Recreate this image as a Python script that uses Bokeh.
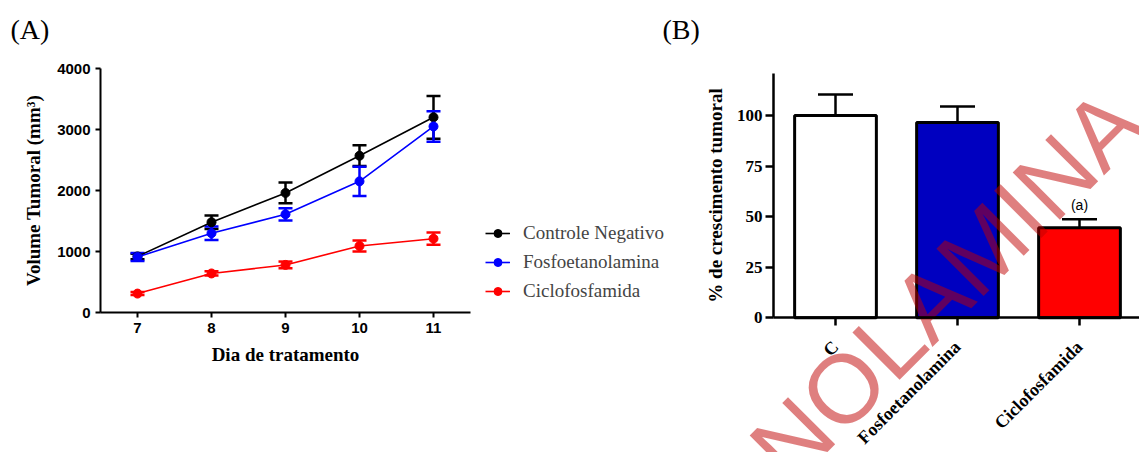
import math
from bokeh.plotting import figure
from bokeh.models import (ColumnDataSource, Whisker, TeeHead, Legend, LegendItem,
                          Label, FixedTicker, Range1d)
from bokeh.layouts import row
from bokeh.embed import file_html
from bokeh.resources import INLINE

# ---------------- data ----------------
dias = [7, 8, 9, 10, 11]
controle = [920, 1480, 1960, 2570, 3200]
controle_err = [45, 110, 170, 170, 350]
fosfo = [910, 1300, 1610, 2150, 3050]
fosfo_err = [65, 110, 100, 240, 250]
ciclo = [310, 640, 780, 1090, 1210]
ciclo_err = [25, 35, 55, 90, 100]
series_names = ["Controle Negativo", "Fosfoetanolamina", "Ciclofosfamida"]
y_ticks_a = [0, 1000, 2000, 3000, 4000]

grupos = ["C", "Fosfoetanolamina", "Ciclofosfamida"]
crescimento = [100, 96.5, 44.5]
crescimento_err = [10.4, 8, 4.2]
bar_colors = ["#FFFFFF", "#0000C0", "#FF0000"]
y_ticks_b = [0, 25, 50, 75, 100]

SERIF = "Liberation Serif"
SANS = "Liberation Sans"
H = 452

# ---------------- panel A (frame = whole canvas, axes at fixed locations) ----------------
W1 = 705
ax_x0, ax_x1, ax_y0, ax_y1 = 6.5, 11.5, 0, 4000          # axis extents
fx0, fx1, fy0, fy1 = 100, 470, 312, 68                  # their pixel positions
kx = (ax_x1 - ax_x0) / (fx1 - fx0)
ky = (ax_y1 - ax_y0) / (fy0 - fy1)
xr1 = Range1d(ax_x0 - fx0 * kx, ax_x0 + (W1 - fx0) * kx)
yr1 = Range1d(ax_y0 - (H - fy0) * ky, ax_y1 + fy1 * ky)

p1 = figure(width=W1, height=H, x_range=xr1, y_range=yr1, title=None,
            output_backend="svg", toolbar_location=None,
            min_border_left=0, min_border_right=0, min_border_top=0, min_border_bottom=0)
p1.outline_line_color = None
p1.xgrid.visible = False
p1.ygrid.visible = False

items = []
for name, vals, errs, color in [(series_names[0], controle, controle_err, "black"),
                                (series_names[1], fosfo, fosfo_err, "#0000FF"),
                                (series_names[2], ciclo, ciclo_err, "#FF0000")]:
    src = ColumnDataSource(dict(x=dias, y=vals,
                                upper=[v + e for v, e in zip(vals, errs)],
                                lower=[v - e for v, e in zip(vals, errs)]))
    lr = p1.line("x", "y", source=src, line_color=color, line_width=1.6)
    w = Whisker(source=src, base="x", upper="upper", lower="lower",
                line_color=color, line_width=2.5,
                upper_head=TeeHead(size=14, line_color=color, line_width=2.5),
                lower_head=TeeHead(size=14, line_color=color, line_width=2.5))
    p1.add_layout(w)
    sr = p1.scatter("x", "y", source=src, size=9, marker="circle",
                    fill_color=color, line_color=color)
    items.append(LegendItem(label=name, renderers=[lr, sr]))

legend = Legend(items=items, location=(480, H - 307), border_line_alpha=0,
                background_fill_alpha=0,
                label_text_font=SERIF, label_text_font_size="19px",
                glyph_width=25, glyph_height=20, label_standoff=13, padding=5,
                spacing=7, margin=0)
p1.add_layout(legend)

p1.xaxis.fixed_location = ax_y0
p1.yaxis.fixed_location = ax_x0
p1.xaxis.bounds = (ax_x0, ax_x1)
p1.yaxis.bounds = (ax_y0, ax_y1)
for ax in (p1.xaxis[0], p1.yaxis[0]):
    ax.axis_line_width = 2
    ax.major_tick_line_width = 2
    ax.major_tick_out = 5
    ax.major_tick_in = 0
    ax.minor_tick_line_color = None
    ax.major_label_text_font = SANS
    ax.major_label_text_font_style = "bold"
    ax.major_label_text_font_size = "15px"
    ax.major_label_text_color = "black"
    ax.axis_label_text_font = SERIF
    ax.axis_label_text_font_style = "bold"
    ax.axis_label_text_font_size = "19px"
    ax.axis_label_text_color = "black"
    ax.major_label_standoff = 5

p1.xaxis.ticker = FixedTicker(ticks=dias)
p1.yaxis.ticker = FixedTicker(ticks=y_ticks_a)
p1.xaxis.axis_label = "Dia de tratamento"
p1.yaxis.axis_label = "Volume Tumoral (mm³)"
p1.xaxis.axis_label_standoff = 8
p1.yaxis.axis_label_standoff = 10


def px1(xp, yp):
    return xr1.start + xp * kx, yr1.end - yp * ky


for txt, xp in [("(A)", 10), ("(B)", 662)]:
    lx, ly = px1(xp, 29)
    p1.add_layout(Label(x=lx, y=ly, text=txt, text_font=SERIF, text_font_size="28px",
                        text_color="black", text_baseline="middle"))

# ---------------- panel B ----------------
W2 = 1139 - W1
bar_x = list(range(len(grupos)))
bx0, bx1, by0, by1 = -0.508, 2.4918, 0, 121
c0_px, unit_px = 835 - W1, 122          # x=0 pixel (local), px per category
y0_px, yunit_px = 317.3, 2.023          # y=0 pixel, px per %
xr2 = Range1d(-c0_px / unit_px, (W2 - c0_px) / unit_px)
yr2 = Range1d(-(H - y0_px) / yunit_px, y0_px / yunit_px)

p2 = figure(width=W2, height=H, x_range=xr2, y_range=yr2, title=None,
            output_backend="svg", toolbar_location=None,
            min_border_left=0, min_border_right=0, min_border_top=0, min_border_bottom=0)
p2.outline_line_color = None
p2.xgrid.visible = False
p2.ygrid.visible = False

bsrc = ColumnDataSource(dict(x=bar_x, top=crescimento, color=bar_colors,
                             upper=[v + e for v, e in zip(crescimento, crescimento_err)]))
p2.vbar(x="x", top="top", width=0.67, source=bsrc, fill_color="color",
        line_color="black", line_width=3)
p2.add_layout(Whisker(source=bsrc, base="x", upper="upper", lower="top",
                      line_color="black", line_width=2.5, lower_head=None,
                      upper_head=TeeHead(size=35, line_color="black", line_width=2.5)))

p2.add_layout(Label(x=bar_x[2], y=crescimento[2] + crescimento_err[2] + 3, text="(a)",
                    text_font=SANS, text_font_size="14px", text_color="black",
                    text_align="center", text_baseline="bottom"))

p2.xaxis.fixed_location = by0
p2.yaxis.fixed_location = bx0
p2.xaxis.bounds = (bx0, bx1)
p2.yaxis.bounds = (by0, by1)
for ax in (p2.xaxis[0], p2.yaxis[0]):
    ax.axis_line_width = 2.5
    ax.major_tick_line_width = 2.5
    ax.major_tick_out = 8
    ax.major_tick_in = 0
    ax.minor_tick_line_color = None
    ax.major_label_text_font = SERIF
    ax.major_label_text_font_style = "bold"
    ax.major_label_text_font_size = "17px"
    ax.major_label_text_color = "black"
    ax.axis_label_text_font = SERIF
    ax.axis_label_text_font_style = "bold"
    ax.axis_label_text_font_size = "19px"
    ax.axis_label_text_color = "black"
    ax.major_label_standoff = 3

p2.xaxis.ticker = FixedTicker(ticks=bar_x)
p2.xaxis.major_label_overrides = {i: g for i, g in zip(bar_x, grupos)}
p2.xaxis.major_label_orientation = math.pi / 4
p2.xaxis.major_label_text_font_size = "18px"
p2.xaxis.major_label_standoff = 18
p2.yaxis.ticker = FixedTicker(ticks=y_ticks_b)
p2.yaxis.axis_label = "% de crescimento tumoral"
p2.yaxis.axis_label_standoff = 8

# watermark: anchor = middle of text box at its start
wm_x, wm_y = 767, 464
p2.add_layout(Label(x=xr2.start + (wm_x - W1) / unit_px, y=(y0_px - wm_y) / yunit_px,
                    text="NOLAMINA", angle=math.pi / 4, level="glyph",
                    text_font=SANS, text_font_size="97px",
                    text_color="#C00000", text_alpha=0.5,
                    text_align="left", text_baseline="middle"))

layout = row(p1, p2)
open("out.html", "w").write(file_html(layout, INLINE))
